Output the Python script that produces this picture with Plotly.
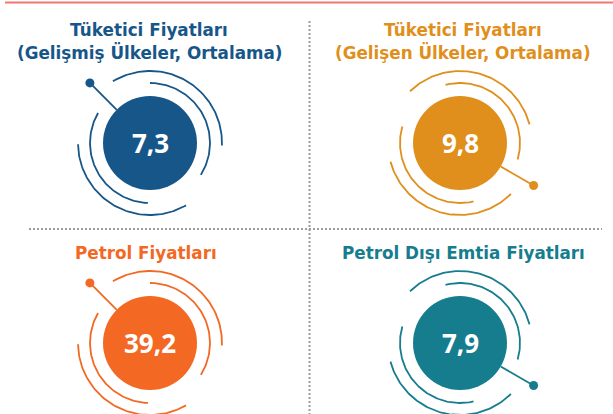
import numpy as np
import plotly.graph_objects as go

# values shown in the four circles
titles = [
    ["Tüketici Fiyatları", "(Gelişmiş Ülkeler, Ortalama)"],
    ["Tüketici Fiyatları", "(Gelişen Ülkeler, Ortalama)"],
    ["Petrol Fiyatları"],
    ["Petrol Dışı Emtia Fiyatları"],
]
values = [7.3, 9.8, 39.2, 7.9]
colors = ["#165689", "#E08F1C", "#F36823", "#157D8E"]

W, H = 613, 414
TITLE_FONT = "DejaVu Sans"
NUM_FONT = "Open Sans"

# panel layout: circle centre, title line y positions, title centre x, arc style
centers = [(150, 143), (460, 143), (150, 343), (460, 343)]
title_x = [149, 463, 146, 463]
title_y = [[30, 52], [30, 52], [253], [253]]
# arc style A: pin upper-left, style B: pin lower-right (angles in degrees)
arc_styles = {
    "A": {"arcs": [(72, -2, 121), (60, -32, 90), (60, 150, 268), (72, 181, 300)], "pin": 135},
    "B": {"arcs": [(72, 15, 134), (60, -16, 104), (60, 164, 283), (72, 195, 315)], "pin": -30},
}
panel_style = ["A", "B", "A", "B"]
R_CIRCLE = 47
R_PIN = 85

fig = go.Figure()


def arc_xy(cx, cy, r, a0, a1):
    t = np.radians(np.linspace(a0, a1, 80))
    return cx + r * np.cos(t), cy - r * np.sin(t)


shapes = []
annotations = []

for i, (cx, cy) in enumerate(centers):
    col = colors[i]
    st = arc_styles[panel_style[i]]
    for r, a0, a1 in st["arcs"]:
        x, y = arc_xy(cx, cy, r, a0, a1)
        fig.add_trace(go.Scatter(x=x, y=y, mode="lines",
                                 line=dict(color=col, width=1.8),
                                 hoverinfo="skip", showlegend=False))
    ang = np.radians(st["pin"])
    px = [cx + R_CIRCLE * np.cos(ang), cx + R_PIN * np.cos(ang)]
    py = [cy - R_CIRCLE * np.sin(ang), cy - R_PIN * np.sin(ang)]
    fig.add_trace(go.Scatter(x=px, y=py, mode="lines",
                             line=dict(color=col, width=1.8),
                             hoverinfo="skip", showlegend=False))
    fig.add_trace(go.Scatter(x=[px[1]], y=[py[1]], mode="markers",
                             marker=dict(color=col, size=9),
                             hoverinfo="skip", showlegend=False))
    shapes.append(dict(type="circle", xref="x", yref="y",
                       x0=cx - R_CIRCLE, x1=cx + R_CIRCLE,
                       y0=cy - R_CIRCLE, y1=cy + R_CIRCLE,
                       fillcolor=col, line=dict(width=0), layer="above"))
    annotations.append(dict(x=cx, y=cy, xref="x", yref="y",
                            text=f"{values[i]:.1f}".replace(".", ","),
                            showarrow=False,
                            font=dict(family=NUM_FONT, size=26, color="white", weight=700)))
    for line, ly in zip(titles[i], title_y[i]):
        annotations.append(dict(x=title_x[i], y=ly, xref="x", yref="y",
                                text=line, showarrow=False,
                                font=dict(family=TITLE_FONT, size=16.8, color=col, weight=700)))

# separators
fig.add_trace(go.Scatter(x=[5, W], y=[2.5, 2.5], mode="lines",
                         line=dict(color="#F2776F", width=2),
                         hoverinfo="skip", showlegend=False))
fig.add_trace(go.Scatter(x=[29, 602], y=[229, 229], mode="lines",
                         line=dict(color="#9C9C9C", width=2, dash="2px,2px"),
                         hoverinfo="skip", showlegend=False))
fig.add_trace(go.Scatter(x=[309.5, 309.5], y=[21, H], mode="lines",
                         line=dict(color="#9C9C9C", width=2, dash="2px,2px"),
                         hoverinfo="skip", showlegend=False))

fig.update_layout(
    width=W, height=H,
    margin=dict(l=0, r=0, t=0, b=0),
    paper_bgcolor="white", plot_bgcolor="white",
    shapes=shapes, annotations=annotations,
    xaxis=dict(range=[0, W], visible=False, fixedrange=True),
    yaxis=dict(range=[H, 0], visible=False, fixedrange=True),
    showlegend=False,
)

fig.write_html("out.html", config={"displayModeBar": False, "staticPlot": True},
               post_script="document.body.style.margin='0';")
